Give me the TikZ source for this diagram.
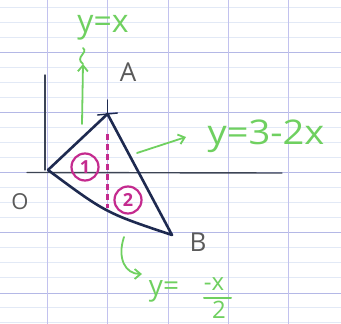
\documentclass[tikz,border=0pt]{standalone}
\usepackage{fontspec}
\setmainfont{Open Sans}
\usetikzlibrary{arrows.meta}
\definecolor{gridmaj}{HTML}{B4B8E6}
\definecolor{gridmin}{HTML}{E2E9F6}
\definecolor{gridv}{HTML}{C2C2EE}
\definecolor{navy}{HTML}{1E2A50}
\definecolor{axisc}{HTML}{3C4455}
\definecolor{mag}{HTML}{C42A8E}
\definecolor{grn}{HTML}{6FD060}
\definecolor{lbl}{HTML}{5A5A5A}
\begin{document}
\begin{tikzpicture}[x=1pt,y=-1pt,line cap=round,line join=round,
  tri/.style={draw=navy,line width=2.6pt},
  ptlabel/.style={text=lbl,font=\fontsize{26}{28}\selectfont,inner sep=0pt},
  eqlabel/.style={text=grn,inner sep=0pt},
  fraclabel/.style={text=grn,inner sep=0pt,font=\fontsize{24}{26}\selectfont},
  garrow/.style={draw=grn,line width=1.8pt,-{Straight Barb[length=6pt,width=10pt]}},
  ring/.style={circle,draw=mag,line width=2.2pt,minimum size=27pt,inner sep=0pt,text=mag,font=\fontsize{18}{19}\selectfont\bfseries},
  minline/.style={draw=gridmin,line width=0.8pt},
  majline/.style={draw=gridmaj,line width=1pt},
  vline/.style={draw=gridv,line width=1pt}]
\fill[white] (0,0) rectangle (341,324);
\useasboundingbox (0,0) rectangle (341,324);
% grid
\foreach \y in {7,22,37,67,82,97,127,142,157,187,202,217,247,262,277,307,322}
  \draw[minline] (0,\y) -- (341,\y);
\foreach \y in {52,112,172.5,232.5,293}
  \draw[majline] (0,\y) -- (341,\y);
\foreach \x in {47,107.5,168,228,288.5}
  \draw[vline] (\x,0) -- (\x,324);
% axes
\coordinate (yt) at (45,75);
\coordinate (yb) at (45,170);
\coordinate (xl) at (27,172.5);
\coordinate (xr) at (282,173);
\draw[axisc,line width=1.4pt] (yt) -- (yb);
\draw[axisc,line width=1.4pt] (xl) -- (xr);
% points
\coordinate (O) at (48,170);
\coordinate (A) at (107.5,114);
\coordinate (B) at (172,235);
% dashed separator
\coordinate (dt) at (107.5,134);
\coordinate (db) at (107.5,208);
\draw[mag,line width=2.8pt,line cap=butt,dash pattern=on 6pt off 4pt] (dt) -- (db);
% triangle
\draw[tri] (O) -- (A) -- (B) .. controls (106,213) .. (O);
\draw[navy,line width=1.4pt] (A) -- ++(0,-14);
\draw[navy,line width=1.4pt] ([shift={(-10,1)}]A) -- ([shift={(10,-1)}]A);
% regions
\node[ring] (r1) at (85,167) {1};
\node[ring] (r2) at (128,200) {2};
% point labels
\node[ptlabel] (lA) at (128,72) {A};
\node[ptlabel,font=\fontsize{22}{24}\selectfont] (lO) at (20,202) {O};
\node[ptlabel] (lB) at (198,242) {B};
% y = x
\node[eqlabel,font=\fontsize{32}{34}\selectfont] (eq1) at (103,28) {y=x};
\coordinate (g1s) at (82,124);
\coordinate (g1e) at (83,64);
\draw[garrow] (g1s) -- (g1e);
\draw[grn,line width=1.8pt] (g1e) .. controls (74,57) and (89,53) .. (83,48);
% y = 3-2x
\coordinate (g2s) at (137,153);
\coordinate (g2e) at (186,137);
\draw[garrow] (g2s) -- (g2e);
\node[eqlabel,font=\fontsize{34}{36}\selectfont] (eq2) at (266,136) {\scalebox{1.12}[1]{y=3-2x}};
% y = -x/2
\coordinate (g3s) at (124,237);
\coordinate (g3e) at (142,274);
\draw[garrow] (g3s) .. controls (117,258) and (125,274) .. (g3e);
\node[eqlabel,font=\fontsize{28}{30}\selectfont] (eq3) at (164,291) {y=};
\node[fraclabel] (num) at (214,284) {-x};
\node[fraclabel] (den) at (219,310) {2};
\coordinate (fb1) at (204,298);
\coordinate (fb2) at (231,298);
\draw[grn,line width=2pt] (fb1) -- (fb2);
\end{tikzpicture}
\end{document}
